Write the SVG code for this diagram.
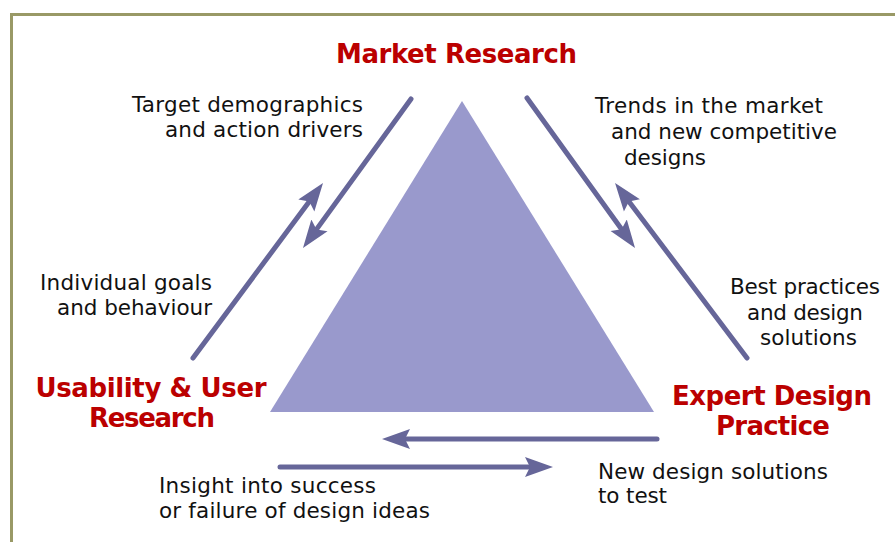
<svg xmlns="http://www.w3.org/2000/svg" width="895" height="542" viewBox="0 0 895 542">
<style>
.title{font-family:"DejaVu Sans","Liberation Sans",sans-serif;font-weight:bold;font-size:26px;fill:#bb0000;text-anchor:middle}
.lbl{font-family:"DejaVu Sans","Liberation Sans",sans-serif;font-size:21.5px;fill:#111111}
.arr{stroke:#666699;stroke-width:5;stroke-linecap:round;fill:none;marker-end:url(#head)}
</style>
<defs>
<marker id="head" markerUnits="userSpaceOnUse" markerWidth="30" markerHeight="24" viewBox="0 -12 30 24" refX="5" refY="0" orient="auto">
<path d="M0,-10 L28,0 L0,10 L5,0 Z" fill="#666699"/>
</marker>
</defs>
<rect width="895" height="542" fill="#ffffff"/>
<path d="M11.5,542 V14.5 H895" stroke="#999966" stroke-width="3" fill="none"/>
<g id="triangle">
<polygon points="462,101 270,412 654,412" fill="#9999cc"/>
</g>
<g id="market-research">
<text class="title" x="456.5" y="63" textLength="241">Market Research</text>
</g>
<g id="usability-user-research">
<text class="title" x="151" y="397" textLength="231">Usability &amp; User</text>
<text class="title" x="152" y="427" textLength="126">Research</text>
</g>
<g id="expert-design-practice">
<text class="title" x="772" y="405" textLength="200">Expert Design</text>
<text class="title" x="773" y="435" textLength="114">Practice</text>
</g>
<g id="connectors">
<line class="arr" x1="411" y1="99" x2="316.5" y2="229.4"/>
<line class="arr" x1="193" y1="358" x2="309.3" y2="201.5"/>
<line class="arr" x1="527" y1="98" x2="621.6" y2="229.3"/>
<line class="arr" x1="747" y1="358" x2="628.9" y2="201.4"/>
<line class="arr" x1="657" y1="439" x2="405" y2="439"/>
<line class="arr" x1="280" y1="467" x2="530" y2="467" stroke-width="6"/>
</g>
<g id="labels">
<text class="lbl" x="132" y="112" textLength="231">Target demographics</text>
<text class="lbl" x="165" y="137" textLength="198">and action drivers</text>
<text class="lbl" x="595" y="113" textLength="228">Trends in the market</text>
<text class="lbl" x="611" y="139" textLength="226">and new competitive</text>
<text class="lbl" x="624" y="165" textLength="82">designs</text>
<text class="lbl" x="40" y="290" textLength="172">Individual goals</text>
<text class="lbl" x="57" y="315" textLength="155">and behaviour</text>
<text class="lbl" x="730" y="294" textLength="150">Best practices</text>
<text class="lbl" x="747" y="320" textLength="116">and design</text>
<text class="lbl" x="760" y="345" textLength="97">solutions</text>
<text class="lbl" x="159" y="493" textLength="217">Insight into success</text>
<text class="lbl" x="159" y="518" textLength="271">or failure of design ideas</text>
<text class="lbl" x="598" y="479" textLength="230">New design solutions</text>
<text class="lbl" x="598" y="503" textLength="69">to test</text>
</g>
</svg>
